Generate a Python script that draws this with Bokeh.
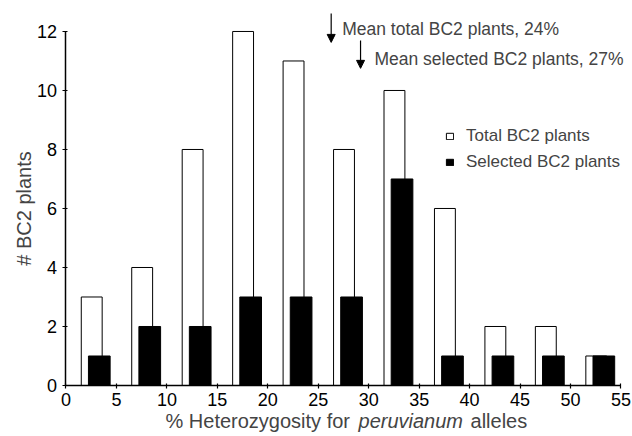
import math
from bokeh.plotting import figure
from bokeh.models import (ColumnDataSource, FixedTicker, Legend, LegendItem,
                          Arrow, NormalHead, Label)
from bokeh.embed import file_html
from bokeh.resources import INLINE

# ---- data ----
bin_start = [0, 5, 10, 15, 20, 25, 30, 35, 40, 45, 50]
total_bc2 = [3, 4, 8, 12, 11, 8, 10, 6, 2, 2, 1]
selected_bc2 = [1, 2, 2, 3, 3, 3, 7, 1, 1, 1, 1]
x_ticks = [0, 5, 10, 15, 20, 25, 30, 35, 40, 45, 50, 55]
y_ticks = [0, 2, 4, 6, 8, 10, 12]
mean_labels = ["Mean total BC2 plants, 24%", "Mean selected BC2 plants, 27%"]
mean_arrow_x = [26.28, 29.19]

FONT = "Liberation Sans"

bin_width = 5
mid = [b + bin_width / 2 for b in bin_start]
src = ColumnDataSource(dict(
    x_total=[m + 0.05 for m in mid],
    x_sel=[m + 0.8 for m in mid],
    total=total_bc2,
    sel=selected_bc2,
))

p = figure(width=632, height=436, output_backend="svg", toolbar_location=None,
           x_range=(-6.49, 56.14), y_range=(-1.729, 13.05),
           min_border_left=0, min_border_right=0, min_border_top=0,
           min_border_bottom=0)
p.outline_line_color = None
p.xgrid.visible = False
p.ygrid.visible = False
p.background_fill_color = "white"
p.border_fill_color = "white"

r_total = p.vbar(x="x_total", top="total", width=2.07, bottom=0, source=src,
                 fill_color="white", line_color="black", line_width=1)
r_sel = p.vbar(x="x_sel", top="sel", width=2.15, bottom=0, source=src,
               fill_color="black", line_color="black", line_width=1)

# axes
for ax in (p.xaxis[0], p.yaxis[0]):
    ax.axis_line_width = 1.5
    ax.axis_line_color = "black"
    ax.major_tick_line_color = "black"
    ax.major_tick_line_width = 1.2
    ax.major_tick_in = 2
    ax.major_tick_out = 3
    ax.minor_tick_line_color = None
    ax.major_label_text_font = FONT
    ax.major_label_text_font_size = "18px"
    ax.major_label_text_color = "black"
    ax.fixed_location = 0

p.xaxis[0].ticker = FixedTicker(ticks=x_ticks)
p.xaxis[0].bounds = (0, 55)
p.xaxis[0].major_label_standoff = 5
p.yaxis[0].ticker = FixedTicker(ticks=y_ticks)
p.yaxis[0].bounds = (0, 12)
p.yaxis[0].major_label_standoff = 6

# y axis label
p.add_layout(Label(x=-4.15, y=6.0, text="# BC2 plants", text_font=FONT,
                   text_font_size="20px", angle=math.pi / 2,
                   text_baseline="middle", text_align="center"))

# x axis label with italic part
xl_y = -1.19
XFS = "20px"
p.add_layout(Label(x=9.86, y=xl_y, text="% Heterozygosity for", text_font=FONT,
                   text_font_size=XFS, text_baseline="middle", text_align="left"))
p.add_layout(Label(x=28.99, y=xl_y, text="peruvianum", text_font=FONT,
                   text_font_style="italic",
                   text_font_size=XFS, text_baseline="middle", text_align="left"))
p.add_layout(Label(x=40.09, y=xl_y, text="alleles", text_font=FONT,
                   text_font_size=XFS, text_baseline="middle", text_align="left"))

# mean arrows and texts
arrow_top = [12.61, 11.69]
arrow_bot = [11.63, 10.75]
text_x = [27.37, 30.57]
text_y = [12.07, 11.08]
for i in range(2):
    p.add_layout(Arrow(end=NormalHead(size=8, fill_color="black", line_color="black"),
                       x_start=mean_arrow_x[i], y_start=arrow_top[i],
                       x_end=mean_arrow_x[i], y_end=arrow_bot[i],
                       line_color="black", line_width=1.2))
    p.add_layout(Label(x=text_x[i], y=text_y[i], text=mean_labels[i], text_font=FONT,
                       text_font_size="17.5px", text_baseline="middle", text_align="left"))

legend = Legend(items=[LegendItem(label="Total BC2 plants", renderers=[r_total]),
                       LegendItem(label="Selected BC2 plants", renderers=[r_sel])],
                location=(445, 264), glyph_width=9, glyph_height=8,
                label_height=20, spacing=6, padding=0, margin=0,
                label_standoff=12, border_line_color=None,
                background_fill_alpha=0, label_text_font=FONT,
                label_text_font_size="17px")
p.add_layout(legend)

open("out.html", "w").write(file_html(p, INLINE))
